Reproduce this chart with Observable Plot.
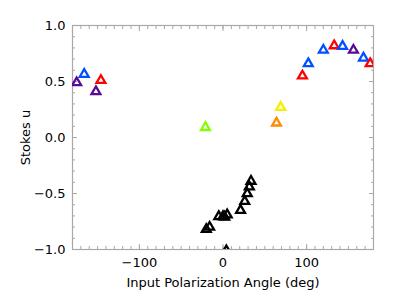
<!DOCTYPE html>
<html>
<head>
<meta charset="utf-8">
<script src="https://cdn.jsdelivr.net/npm/d3@7"></script>
<script src="https://cdn.jsdelivr.net/npm/@observablehq/plot@0.6"></script>
<style>
  html, body { margin: 0; padding: 0; background: #fff; }
  #chart { width: 406px; height: 299px; }
</style>
</head>
<body>
<div id="chart"></div>
<script>
// Input polarization angle (deg)
const angle = [-175, -166, -152, -146, -21, 64, 69, 95, 102, 120, 133, 143, 156, 168, 176,
               -20, -16, -5, 0, 2, 5, 21, 26, 29, 31.5, 33.5, 4];
// Stokes u
const stokesU = [0.49, 0.565, 0.41, 0.51, 0.09, 0.13, 0.27, 0.55, 0.66, 0.78, 0.82, 0.815, 0.78, 0.71, 0.66,
                 -0.82, -0.80, -0.705, -0.705, -0.71, -0.69, -0.65, -0.57, -0.50, -0.44, -0.39, -1.01];
// Symbol colour group (codes)
const group = ["P", "B", "P", "R", "G", "O", "Y", "R", "B", "B", "R", "B", "P", "B", "R",
               "K", "K", "K", "K", "K", "K", "K", "K", "K", "K", "K", "K"];

const groupNames = ["P", "B", "R", "G", "O", "Y", "K"];
const groupColors = ["#5a0a96", "#0050ff", "#ff0000", "#80ff00", "#ff8c00", "#f5f000", "#000000"];

const xMajor = [-100, 0, 100];
const xMinor = d3.range(-180, 181, 10);
const yMajor = [-1.0, -0.5, 0.0, 0.5, 1.0];
const yMinor = d3.range(-10, 11).map(d => d / 10);

const data = angle.map((a, i) => ({angle: a, u: stokesU[i], group: group[i]}));

const axisGray = "#a8a8a8";
const tickAxes = [];
for (const [ticks, size] of [[xMinor, 3], [xMajor, 5]]) {
  tickAxes.push(Plot.axisX({anchor: "bottom", ticks, tickSize: size, dy: -size, text: null, label: null, stroke: axisGray}));
  tickAxes.push(Plot.axisX({anchor: "top", ticks, tickSize: size, dy: size, text: null, label: null, stroke: axisGray}));
}
for (const [ticks, size] of [[yMinor, 3], [yMajor, 5]]) {
  tickAxes.push(Plot.axisY({anchor: "left", ticks, tickSize: size, dx: size, text: null, label: null, stroke: axisGray}));
  tickAxes.push(Plot.axisY({anchor: "right", ticks, tickSize: size, dx: -size, text: null, label: null, stroke: axisGray}));
}

const chart = Plot.plot({
  width: 406,
  height: 299,
  marginLeft: 72,
  marginRight: 33,
  marginTop: 25,
  marginBottom: 50,
  style: {fontFamily: "DejaVu Sans", fontSize: "13px", color: "#000", background: "#fff"},
  x: {domain: [-180, 180]},
  y: {domain: [-1, 1]},
  color: {type: "ordinal", domain: groupNames, range: groupColors},
  marks: [
    Plot.frame({stroke: axisGray, strokeWidth: 1.2}),
    ...tickAxes,
    Plot.axisX({anchor: "bottom", ticks: xMajor, tickSize: 0, tickPadding: 8, tickFormat: d3.format("d"),
                label: "Input Polarization Angle (deg)", labelAnchor: "center", labelArrow: "none", labelOffset: 37}),
    Plot.axisY({anchor: "left", ticks: yMajor, tickSize: 0, tickPadding: 7, tickFormat: d3.format(".1f"),
                label: "Stokes u", labelAnchor: "center", labelArrow: "none", labelOffset: 52}),
    Plot.dot(data, {x: "angle", y: "u", stroke: "group", symbol: "triangle", r: 3.3, strokeWidth: 2.3, fill: "none", clip: true})
  ]
});
document.getElementById("chart").appendChild(chart);
</script>
</body>
</html>
